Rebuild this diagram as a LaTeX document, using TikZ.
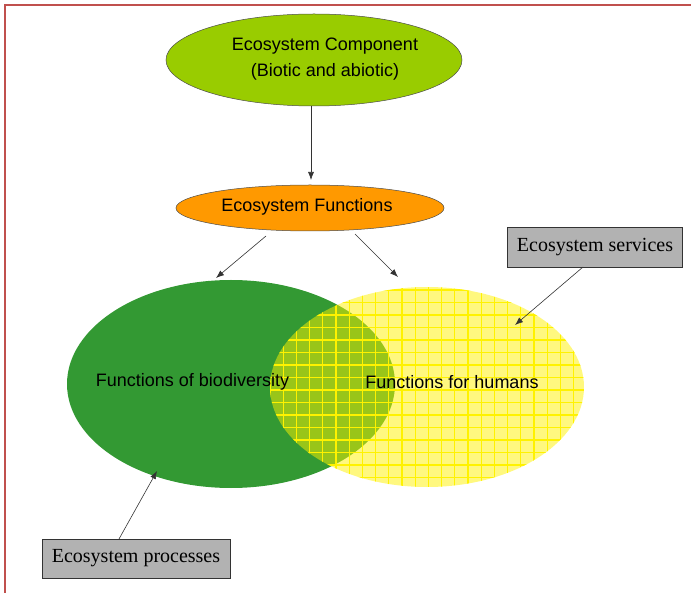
\documentclass[tikz,border=0pt]{standalone}
\usepackage{fontspec}
\usetikzlibrary{arrows.meta}
\setmainfont{Liberation Sans}
\newfontfamily\serif{Liberation Serif}
\definecolor{frame}{RGB}{192,80,77}
\definecolor{lime}{RGB}{153,204,0}
\definecolor{orng}{RGB}{255,153,0}
\definecolor{grn}{RGB}{51,153,51}
\begin{document}
\begin{tikzpicture}[x=1pt,y=-1pt,
  lbl/.style={font=\fontsize{18}{26}\selectfont,align=center},
  gbox/.style={draw=black!80,fill=black!30,line width=0.8pt,font=\serif\fontsize{20}{22}\selectfont,inner sep=0pt},
  arr/.style={-{Latex[length=8pt,width=6pt]},draw=black!80,line width=0.6pt}]
\useasboundingbox (0,0) rectangle (691,593);
\draw[color=frame,line width=2pt] (5,593) -- (5,5) -- (691,5);
% top ellipse
\fill[lime] (314,60) ellipse [x radius=148,y radius=46];
\draw[black!70,line width=0.5pt] (314,60) ellipse [x radius=148,y radius=46];
\node[lbl] (comp) at (325,59) {Ecosystem Component\\(Biotic and abiotic)};
\coordinate (compb) at (311,106);
% functions ellipse
\fill[orng] (310,208) ellipse [x radius=134,y radius=23];
\draw[black!70,line width=0.5pt] (310,208) ellipse [x radius=134,y radius=23];
\node[lbl] (func) at (307,207) {Ecosystem Functions};
\coordinate (funct) at (311,180);
\coordinate (funcl) at (266,236);
\coordinate (funcr) at (355,234);
\draw[arr] (compb) -- (funct);
% green ellipse
\fill[grn] (231,384) ellipse [x radius=164,y radius=104];
% yellow ellipse
\fill[yellow,opacity=0.5] (427,387) ellipse [x radius=157,y radius=100];
\begin{scope}
\clip (427,387) ellipse [x radius=157,y radius=100];
\foreach \i in {0,...,24} {\draw[yellow,line width=1.2pt] (270+\i*13.2,280) -- (270+\i*13.2,490);}
\foreach \j in {0,...,16} {\draw[yellow,line width=1.2pt] (265,290+\j*12.5) -- (590,290+\j*12.5);}
\end{scope}
\node[lbl] (bio) at (192.5,382) {Functions of biodiversity};
\node[lbl] (hum) at (452,382) {Functions for humans};
\coordinate (bioa) at (216,278);
\coordinate (huma) at (398,277);
\draw[arr] (funcl) -- (bioa);
\draw[arr] (funcr) -- (huma);
% boxes
\node[gbox,minimum width=175,minimum height=40] (serv) at (595,247) {Ecosystem services};
\node[gbox,minimum width=188,minimum height=39] (proc) at (136,558.5) {Ecosystem processes};
\coordinate (servs) at (583,267);
\coordinate (procn) at (119,539);
\coordinate (servt) at (515,325);
\coordinate (proct) at (157,471);
\draw[arr] (servs) -- (servt);
\draw[arr] (procn) -- (proct);
\end{tikzpicture}
\end{document}
